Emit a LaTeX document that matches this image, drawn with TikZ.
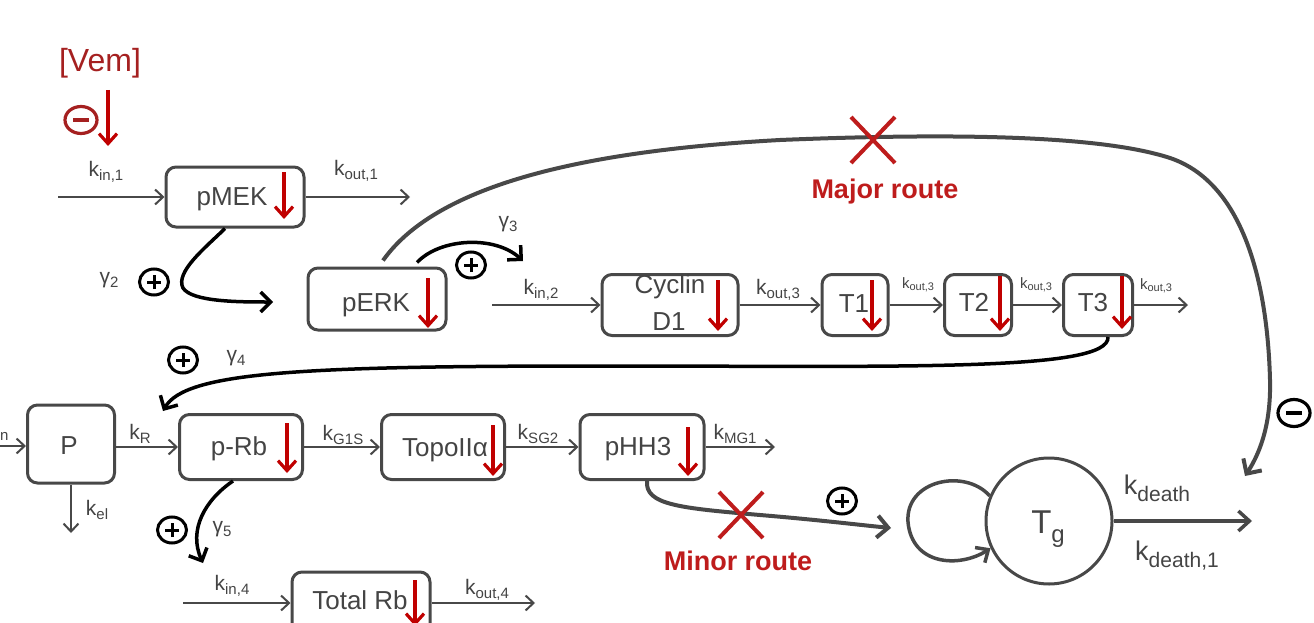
\documentclass[tikz,border=0pt]{standalone}
\usepackage{fontspec}
\setmainfont{Liberation Sans}
\usetikzlibrary{arrows.meta,calc,shapes.geometric,shapes.misc}
\definecolor{dg}{RGB}{72,72,72}
\definecolor{tg}{RGB}{68,68,68}
\definecolor{vred}{RGB}{192,0,0}
\definecolor{dred}{RGB}{165,32,32}
\definecolor{xred}{RGB}{190,28,28}
\newcommand{\sbs}[1]{\raisebox{-4pt}{\fontsize{15}{15}\selectfont #1}}
\newcommand{\ssbs}[1]{\raisebox{-2.5pt}{\fontsize{11}{11}\selectfont #1}}
\newcommand{\bsbs}[1]{\raisebox{-7pt}{\fontsize{21}{21}\selectfont #1}}
\tikzset{
  box/.style={draw=dg, line width=3pt, rounded corners=10pt, inner sep=0pt},
  btxt/.style={text=tg, font=\fontsize{26}{28}\selectfont, inner sep=0pt, anchor=base},
  lab/.style={text=tg, font=\fontsize{21}{22}\selectfont, inner sep=0pt},
  slab/.style={text=tg, font=\fontsize{15}{16}\selectfont, inner sep=0pt},
  dlab/.style={text=tg, font=\fontsize{27}{28}\selectfont, inner sep=0pt},
  rate/.style={draw=dg, line width=2pt, -{Straight Barb[length=8pt,width=15pt]}},
  down/.style={draw=vred, line width=3.2pt, -{Straight Barb[length=10pt,width=18pt]}},
  infl/.style={draw=black, line width=3.5pt, -{Straight Barb[length=10pt,width=20pt]}},
  route/.style={draw=dg, line width=4pt, -{Straight Barb[length=11pt,width=22pt]}},
  plussign/.style={draw=black, line width=3pt, ellipse, minimum width=29pt, minimum height=26pt, inner sep=0pt,
    path picture={\draw[line width=3pt] ([xshift=-7pt]path picture bounding box.center) -- ([xshift=7pt]path picture bounding box.center)
      ([yshift=-7pt]path picture bounding box.center) -- ([yshift=7pt]path picture bounding box.center);}},
  minussign/.style={draw=#1, line width=3.2pt, ellipse, minimum width=32pt, minimum height=27pt, inner sep=0pt,
    path picture={\draw[#1, line width=3.5pt] ([xshift=-8pt]path picture bounding box.center) -- ([xshift=8pt]path picture bounding box.center);}},
  xmark/.style={cross out, draw=xred, line width=4pt, minimum width=40pt, minimum height=42pt, inner sep=0pt},
  routetxt/.style={text=xred, font=\bfseries\fontsize{27}{28}\selectfont, inner sep=0pt}
}
\begin{document}
\begin{tikzpicture}[x=1pt,y=-1pt]
\useasboundingbox (0,0) rectangle (1314,623);
\clip (0,0) rectangle (1314,623);

% Vemurafenib input
\node[text=dred, font=\fontsize{32}{34}\selectfont, inner sep=0pt] (vem) at (100,63) {[Vem]};
\node[minussign=dred] (vemminus) at (81,120) {};
\draw[down] (108,90) -- (108,146);

% boxes
\node[box, minimum width=138pt, minimum height=60pt] (pMEK) at (235,197) {};
\node[box, minimum width=138pt, minimum height=62pt] (pERK) at (377,299) {};
\node[box, minimum width=136pt, minimum height=61pt] (cyc) at (670,305) {};
\node[box, minimum width=66pt, minimum height=61pt] (T1) at (855,305) {};
\node[box, minimum width=67pt, minimum height=61pt] (T2) at (978,305) {};
\node[box, minimum width=69pt, minimum height=61pt] (T3) at (1098,305) {};
\node[box, minimum width=87pt, minimum height=78pt] (P) at (71,444) {};
\node[box, minimum width=123pt, minimum height=65pt] (pRb) at (241,447) {};
\node[box, minimum width=123pt, minimum height=65pt] (topo) at (443,447) {};
\node[box, minimum width=124pt, minimum height=65pt] (pHH3) at (642,447) {};
\node[box, minimum width=138pt, minimum height=62pt] (totRb) at (361,603) {};
\node[draw=dg, line width=3pt, circle, minimum size=126pt, inner sep=0pt] (Tg) at (1049,521) {};

% box texts
\node[btxt] (pMEKt) at (232,205) {pMEK};
\node[btxt] (pERKt) at (376,311) {pERK};
\node[btxt] (cyct1) at (670,293) {Cyclin};
\node[btxt] (cyct2) at (669,330) {D1};
\node[btxt] (T1t) at (854,312) {T1};
\node[btxt] (T2t) at (974,311) {T2};
\node[btxt] (T3t) at (1093,311) {T3};
\node[btxt] (Pt) at (69,454) {P};
\node[btxt] (pRbt) at (239,455) {p-Rb};
\node[btxt] (topot) at (445,456) {TopoIIα};
\node[btxt] (pHH3t) at (638,455) {pHH3};
\node[btxt] (totRbt) at (360,609) {Total Rb};
\node[text=tg, font=\fontsize{33}{34}\selectfont, inner sep=0pt, anchor=base] (Tgt) at (1048,533) {T\raisebox{-9pt}{\fontsize{24}{24}\selectfont g}};

% red down arrows in boxes
\draw[down] (284,172) -- (284,219);
\draw[down] (428,278) -- (428,328);
\draw[down] (718,280) -- (718,331);
\draw[down] (872,280) -- (872,331);
\draw[down] (1000,276) -- (1000,331);
\draw[down] (1122,276) -- (1122,329);
\draw[down] (287,423) -- (287,473);
\draw[down] (493,425) -- (493,476);
\draw[down] (688,427) -- (688,476);
\draw[down] (415,580) -- (415,626);

% rate arrows
\coordinate (kin1s) at (58,197);
\coordinate (kout1e) at (410,197);
\coordinate (kin2s) at (492,305);
\coordinate (kout3e) at (1188,305);
\coordinate (kinPs) at (-5,446);
\coordinate (kele) at (71,533);
\coordinate (kMG1e) at (775,447);
\coordinate (kin4s) at (183,603);
\coordinate (kout4e) at (535,603);
\coordinate (kde) at (1252,521);
\draw[rate] (kin1s) -- (pMEK.west);
\draw[rate] (pMEK.east) -- (kout1e);
\draw[rate] (kin2s) -- (cyc.west);
\draw[rate] (cyc.east) -- (T1.west);
\draw[rate] (T1.east) -- (T2.west);
\draw[rate] (T2.east) -- (T3.west);
\draw[rate] (T3.east) -- (kout3e);
\draw[rate] (kinPs) -- (kinPs -| P.west);
\draw[rate] (P.south) -- (kele);
\draw[rate] (P.east |- pRb.west) -- (pRb.west);
\draw[rate] (pRb.east) -- (topo.west);
\draw[rate] (topo.east) -- (pHH3.west);
\draw[rate] (pHH3.east) -- (kMG1e);
\draw[rate] (kin4s) -- (totRb.west);
\draw[rate] (totRb.east) -- (kout4e);
\draw[draw=dg, line width=3.5pt, -{Straight Barb[length=11pt,width=20pt]}] (Tg.east) -- (kde);

% rate labels
\node[text=tg, font=\fontsize{15}{15}\selectfont, inner sep=0pt, anchor=west] (Lkin0) at (0,436) {n};
\node[lab] (Lkin1) at (106,172) {k\sbs{in,1}};
\node[lab] (Lkout1) at (356,171) {k\sbs{out,1}};
\node[lab] (Lkin2) at (541,290) {k\sbs{in,2}};
\node[lab] (Lkout3a) at (778,290) {k\sbs{out,3}};
\node[slab] (Lkout3b) at (918,285) {k\ssbs{out,3}};
\node[slab] (Lkout3c) at (1036,285) {k\ssbs{out,3}};
\node[slab] (Lkout3d) at (1156,286) {k\ssbs{out,3}};
\node[lab] (LkR) at (140,434) {k\sbs{R}};
\node[lab] (Lkel) at (97,510) {k\sbs{el}};
\node[lab] (LkG1S) at (343,435) {k\sbs{G1S}};
\node[lab] (LkSG2) at (538,434) {k\sbs{SG2}};
\node[lab] (LkMG1) at (735,434) {k\sbs{MG1}};
\node[lab] (Lkin4) at (232,586) {k\sbs{in,4}};
\node[lab] (Lkout4) at (487,590) {k\sbs{out,4}};
\node[dlab] (Lkd) at (1157,488) {k\bsbs{death}};
\node[dlab] (Lkd1) at (1177,556) {k\bsbs{death,1}};

% gamma labels
\node[lab] (g2) at (109,280) {γ\sbs{2}};
\node[lab] (g3) at (508,224) {γ\sbs{3}};
\node[lab] (g4) at (236,358) {γ\sbs{4}};
\node[lab] (g5) at (222,529) {γ\sbs{5}};

% signs
\node[plussign] (s2) at (154,282) {};
\node[plussign] (s3) at (471,265) {};
\node[plussign] (s4) at (183,360) {};
\node[plussign] (s5) at (172,530) {};
\node[plussign] (smin) at (842,501) {};
\node[minussign=black] (smaj) at (1294,413) {};

% influence arrows
\coordinate (g2e) at (273,302);
\coordinate (g3e) at (523,261);
\coordinate (g4e) at (163,411);
\coordinate (g5e) at (203,563);
\coordinate (maje) at (1245,476);
\coordinate (mine) at (891,528);
\draw[infl] ($(pMEK.south)+(-10,0)$) .. controls (205,248) and (175,272) .. (183,288)
   .. controls (192,302) and (240,302) .. (g2e);
\draw[infl] ($(pERK.north)+(40,-4)$) .. controls (440,238) and (495,235) .. (g3e);
\draw[infl] ($(T3.south)+(10,0)$) .. controls (1110,372) and (900,366) .. (600,366)
   .. controls (300,366) and (185,372) .. (g4e);
\draw[infl] ($(pRb.south)+(-8,0)$) .. controls (205,500) and (188,530) .. (g5e);

% routes
\draw[route] ($(pERK.north)+(6,-6)$) .. controls (440,180) and (600,150) .. (780,140)
   .. controls (950,133) and (1100,135) .. (1170,158)
   .. controls (1250,185) and (1268,300) .. (1270,380)
   .. controls (1271,420) and (1262,450) .. (maje);
\draw[route] ($(pHH3.south)+(5,0)$) .. controls (645,505) and (680,508) .. (760,515)
   .. controls (820,520) and (860,525) .. (mine);
\draw[draw=dg, line width=3.5pt, -{Straight Barb[length=10pt,width=18pt]}] (Tg.157) .. controls (965,468) and (905,480) .. (908,522)
   .. controls (912,566) and (960,568) .. (Tg.205);

% crosses and route labels
\node[xmark] (majX) at (873,140) {};
\node[routetxt] (majT) at (885,192) {Major route};
\node[xmark] (minX) at (741,515) {};
\node[routetxt] (minT) at (738,561) {Minor route};
\end{tikzpicture}
\end{document}
